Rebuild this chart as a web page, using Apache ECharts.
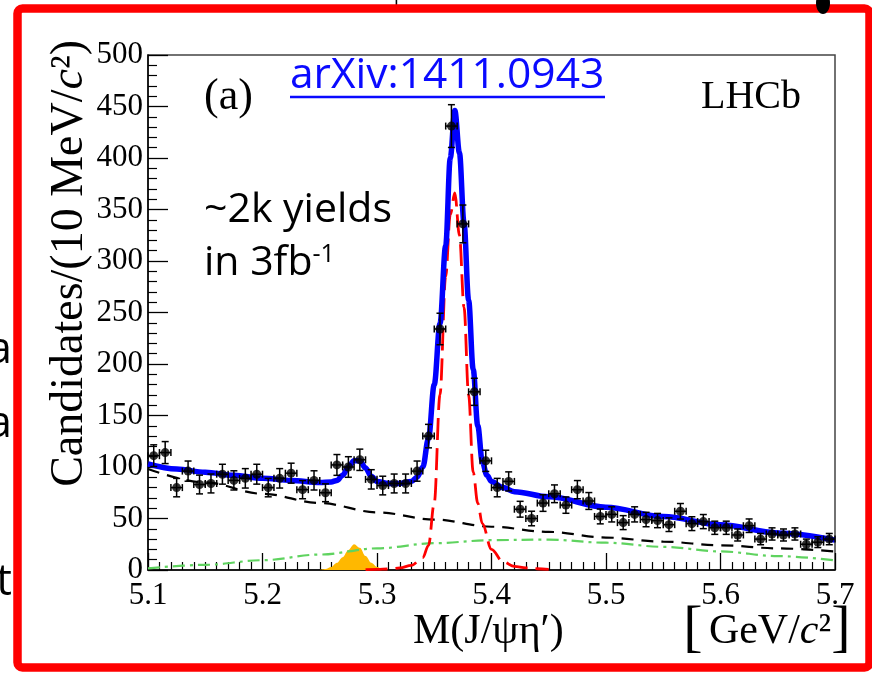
<!DOCTYPE html>
<html>
<head>
<meta charset="utf-8">
<script src="https://cdn.jsdelivr.net/npm/echarts@6/dist/echarts.min.js"></script>
<style>
  html, body { margin: 0; padding: 0; background: #fff; }
  #chart { width: 872px; height: 673px; }
</style>
</head>
<body>
<div id="chart"></div>
<script>
// Invariant-mass bins (GeV/c^2), 10 MeV wide
const binCenters = [
  5.105, 5.115, 5.125, 5.135, 5.145, 5.155, 5.165, 5.175, 5.185, 5.195,
  5.205, 5.215, 5.225, 5.235, 5.245, 5.255, 5.265, 5.275, 5.285, 5.295,
  5.305, 5.315, 5.325, 5.335, 5.345, 5.355, 5.365, 5.375, 5.385, 5.395,
  5.405, 5.415, 5.425, 5.435, 5.445, 5.455, 5.465, 5.475, 5.485, 5.495,
  5.505, 5.515, 5.525, 5.535, 5.545, 5.555, 5.565, 5.575, 5.585, 5.595,
  5.605, 5.615, 5.625, 5.635, 5.645, 5.655, 5.665, 5.675, 5.685, 5.695
];
// Candidates per bin
const counts = [
  111, 114, 80, 96, 83, 84, 93, 87, 89, 93,
  80, 89, 94, 78, 87, 75, 102, 100, 107, 88,
  82, 84, 84, 96, 130, 234, 431, 336, 173, 106,
  80, 86, 59, 50, 65, 74, 63, 78, 67, 52,
  54, 46, 54, 49, 48, 44, 57, 45, 47, 41,
  41, 34, 43, 30, 35, 34, 35, 25, 27, 30
];

// Total fit
const totalMass = [5.10, 5.125, 5.15, 5.175, 5.20, 5.225, 5.25, 5.26, 5.265, 5.27, 5.275, 5.28, 5.285,
  5.29, 5.295, 5.30, 5.31, 5.32, 5.33, 5.335, 5.34, 5.345, 5.35, 5.355, 5.36, 5.364, 5.368,
  5.372, 5.376, 5.38, 5.384, 5.388, 5.392, 5.396, 5.40, 5.41, 5.42, 5.45, 5.50, 5.55, 5.60, 5.65, 5.70];
const totalFit = [103, 98, 95, 92, 89, 87, 85, 85.5, 87, 92, 100, 106, 106,
  99, 91, 86, 84, 84, 86, 90, 100, 128, 180, 239, 315, 400, 446,
  405, 337, 262, 195, 140, 105, 92, 86, 80, 76, 71, 61, 52, 44, 36, 29];

// Bs -> J/psi eta' signal component
const sigMass = [5.29, 5.30, 5.31, 5.32, 5.33, 5.34, 5.345, 5.35, 5.355, 5.36, 5.364, 5.368,
  5.372, 5.376, 5.38, 5.384, 5.388, 5.392, 5.40, 5.41, 5.42, 5.43, 5.44, 5.45];
const sigFit = [0.3, 0.6, 1, 2, 4.5, 12, 24, 65, 170, 285, 345, 366,
  325, 255, 170, 95, 65, 45, 20, 8, 3.5, 2, 1.2, 0.7];

// Combinatorial background
const bkgMass = [5.10, 5.15, 5.20, 5.25, 5.30, 5.35, 5.40, 5.45, 5.50, 5.55, 5.60, 5.65, 5.70];
const combFit = [98, 85, 74, 65, 56, 49, 42, 37, 31.5, 27.5, 24, 21, 18];
// Partially reconstructed background
const partFit = [1.6, 5, 9.5, 15, 21, 26, 29, 29.5, 26.5, 22.5, 18, 13.5, 9.4];

// B0 -> J/psi eta' component
const b0Mass = [5.25, 5.255, 5.26, 5.265, 5.27, 5.275, 5.28, 5.285, 5.29, 5.295, 5.30, 5.305, 5.31];
const b0Fit = [0, 1, 3, 7, 12.5, 19.5, 25, 21.5, 13.5, 7, 3, 1, 0];

const yTicks = [0, 50, 100, 150, 200, 250, 300, 350, 400, 450, 500];
const xTickLabels = ['5.1', '5.2', '5.3', '5.4', '5.5', '5.6', '5.7'];

const binHalf = 0.005;
const serif = '"Liberation Serif", "DejaVu Serif", serif';
const sans = '"Open Sans", "Noto Sans", sans-serif';

const pairs = (xs, ys) => xs.map((x, i) => [x, ys[i]]);

const chart = echarts.init(document.getElementById('chart'), null, { renderer: 'canvas' });

const curve = (name, xs, ys, color, width, dash, z) => ({
  name, type: 'line', data: pairs(xs, ys), showSymbol: false, symbol: 'none',
  smooth: 0.35, smoothMonotone: 'x', z,
  lineStyle: { color, width, type: dash, cap: 'butt' },
  silent: true, animation: false
});

chart.setOption({
  animation: false,
  backgroundColor: '#fff',
  grid: { left: 148, right: 37, top: 55, bottom: 103, show: true, borderColor: '#444', borderWidth: 1.5, backgroundColor: 'transparent' },
  xAxis: {
    type: 'value', min: 5.1, max: 5.7, interval: 0.1,
    axisLine: { show: true, onZero: false, lineStyle: { color: '#000', width: 1.5 } },
    axisTick: { show: true, inside: true, length: 17, lineStyle: { color: '#000', width: 1.3 } },
    minorTick: { show: true, splitNumber: 10, length: 8, lineStyle: { color: '#000', width: 1.2 } },
    splitLine: { show: false }, minorSplitLine: { show: false },
    axisLabel: {
      margin: 10, color: '#000', fontFamily: serif, fontSize: 31,
      formatter: v => xTickLabels[Math.round((v - 5.1) * 10)] || ''
    }
  },
  yAxis: {
    type: 'value', min: yTicks[0], max: yTicks[yTicks.length - 1], interval: 50,
    axisLine: { show: true, onZero: false, lineStyle: { color: '#000', width: 1.5 } },
    axisTick: { show: true, inside: true, length: 20, lineStyle: { color: '#000', width: 1.3 } },
    minorTick: { show: true, splitNumber: 5, length: 9, lineStyle: { color: '#000', width: 1.2 } },
    splitLine: { show: false }, minorSplitLine: { show: false },
    axisLabel: { margin: 5, color: '#000', fontFamily: serif, fontSize: 31 }
  },
  series: [
    {
      name: 'B0', type: 'line', data: pairs(b0Mass, b0Fit), showSymbol: false, symbol: 'none',
      smooth: 0.35, smoothMonotone: 'x', z: 1,
      lineStyle: { width: 0 }, areaStyle: { color: '#ffb800', opacity: 1 }
    },
    curve('partial', bkgMass, partFit, '#5fd35f', 2.2, [12, 5, 3, 5], 2),
    curve('comb', bkgMass, combFit, '#000', 2.2, [12, 8], 3),
    curve('signal', sigMass, sigFit, '#ff0000', 2.8, [22, 8], 4),
    curve('total', totalMass, totalFit, '#0000ff', 5.5, 'solid', 5),
    {
      name: 'errors', type: 'custom', z: 6,
      data: pairs(binCenters, counts),
      renderItem(params, api) {
        const m = api.value(0), n = api.value(1);
        const err = Math.sqrt(n);
        const c = api.coord([m, n]);
        const lo = api.coord([m, n - err]);
        const hi = api.coord([m, n + err]);
        const l = api.coord([m - binHalf, n]);
        const r = api.coord([m + binHalf, n]);
        const cap = 3.5;
        const st = { stroke: '#000', lineWidth: 1.5 };
        const ln = (x1, y1, x2, y2) => ({ type: 'line', shape: { x1, y1, x2, y2 }, style: st });
        return {
          type: 'group',
          children: [
            ln(c[0], lo[1], c[0], hi[1]),
            ln(c[0] - cap, lo[1], c[0] + cap, lo[1]),
            ln(c[0] - cap, hi[1], c[0] + cap, hi[1]),
            ln(l[0], c[1], r[0], c[1]),
            ln(l[0], c[1] - cap, l[0], c[1] + cap),
            ln(r[0], c[1] - cap, r[0], c[1] + cap)
          ]
        };
      }
    },
    {
      name: 'data', type: 'scatter', z: 7, data: pairs(binCenters, counts),
      symbol: 'circle', symbolSize: 9, itemStyle: { color: '#000' }
    }
  ],
  graphic: [
    // y-axis title
    {
      type: 'text', x: 70, y: 40, rotation: Math.PI / 2, z: 10,
      style: {
        text: 'Candidates/(10 MeV/{i|c}²)',
        textAlign: 'right', textVerticalAlign: 'middle',
        font: '46px ' + serif, fill: '#000',
        rich: { i: { fontStyle: 'italic', fontSize: 46, fontFamily: serif } }
      }
    },
    // x-axis title
    {
      type: 'text', x: 413, y: 632, z: 10,
      style: { text: 'M(J/ψη′)', textAlign: 'left', textVerticalAlign: 'middle', font: '42px ' + serif, fill: '#000' }
    },
    {
      type: 'text', x: 693, y: 630, z: 10,
      style: { text: '[', textAlign: 'center', textVerticalAlign: 'middle', font: '58px ' + serif, fill: '#000' }
    },
    {
      type: 'text', x: 770, y: 632, z: 10,
      style: {
        text: 'GeV/{i|c}²', textAlign: 'center', textVerticalAlign: 'middle', font: '42px ' + serif, fill: '#000',
        rich: { i: { fontStyle: 'italic', fontSize: 42, fontFamily: serif } }
      }
    },
    {
      type: 'text', x: 841, y: 630, z: 10,
      style: { text: ']', textAlign: 'center', textVerticalAlign: 'middle', font: '58px ' + serif, fill: '#000' }
    },
    // panel labels
    {
      type: 'text', x: 204, y: 97, z: 10,
      style: { text: '(a)', textAlign: 'left', textVerticalAlign: 'middle', font: '44px ' + serif, fill: '#000' }
    },
    {
      type: 'text', x: 801, y: 97, z: 10,
      style: { text: 'LHCb', textAlign: 'right', textVerticalAlign: 'middle', font: '40px ' + serif, fill: '#000' }
    },
    {
      type: 'text', x: 290, y: 76, z: 10,
      style: { text: 'arXiv:1411.0943', textAlign: 'left', textVerticalAlign: 'middle', font: '42.5px ' + sans, fill: '#0a0aff' }
    },
    {
      type: 'line', z: 10, shape: { x1: 290, y1: 97, x2: 605, y2: 97 },
      style: { stroke: '#0a0aff', lineWidth: 2.5 }
    },
    // yield annotation
    {
      type: 'text', x: 204, y: 210, z: 10,
      style: { text: '~2k yields', textAlign: 'left', textVerticalAlign: 'middle', font: '41px ' + sans, fill: '#000' }
    },
    {
      type: 'text', x: 204, y: 263, z: 10,
      style: {
        text: 'in 3fb{s|-1}', textAlign: 'left', textVerticalAlign: 'middle', font: '41px ' + sans, fill: '#000',
        rich: { s: { fontSize: 25, fontFamily: sans, verticalAlign: 'top', padding: [0, 0, 14, 0] } }
      }
    },
    // neighbouring slide text, cut by the page edges
    {
      type: 'text', x: 12, y: 350, z: 10,
      style: { text: 'a', textAlign: 'right', textVerticalAlign: 'middle', font: '44px ' + sans, fill: '#000' }
    },
    {
      type: 'text', x: 12, y: 424, z: 10,
      style: { text: 'a', textAlign: 'right', textVerticalAlign: 'middle', font: '44px ' + sans, fill: '#000' }
    },
    {
      type: 'text', x: 12, y: 582, z: 10,
      style: { text: 't', textAlign: 'right', textVerticalAlign: 'middle', font: '44px ' + sans, fill: '#000' }
    },
    {
      type: 'text', x: 290, y: 7, z: 10,
      style: { text: 'B⁰ → J/ψK⁺K⁻', textAlign: 'left', textVerticalAlign: 'bottom', font: '30px ' + serif, fill: '#000' }
    },
    // slide frame
    {
      type: 'rect', z: 20,
      shape: { x: 17.5, y: 8.5, width: 852, height: 659, r: 5 },
      style: { fill: 'none', stroke: '#ff0000', lineWidth: 8.5 }
    },
    {
      type: 'ellipse', z: 21,
      shape: { cx: 823, cy: 3, rx: 7, ry: 11 },
      style: { fill: '#000' }
    }
  ]
});
</script>
</body>
</html>
